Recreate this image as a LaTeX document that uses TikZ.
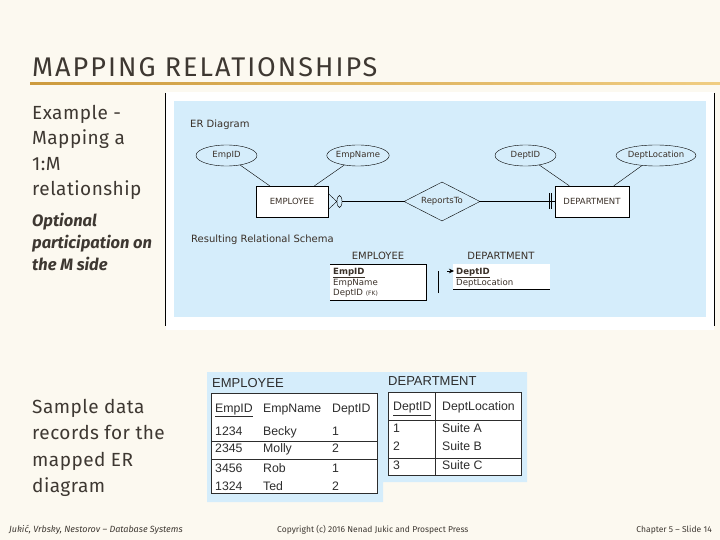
\documentclass[tikz,border=0pt]{standalone}
\usepackage{fontspec}
\setmainfont{Fira Sans}
\newfontfamily\erfont{DejaVu Sans}
\newfontfamily\tabfont{Liberation Sans}
\usetikzlibrary{shapes.geometric,arrows.meta}
\definecolor{slidebg}{RGB}{252,249,240}
\definecolor{slideink}{RGB}{62,56,50}
\definecolor{golddark}{RGB}{205,155,62}
\definecolor{goldlight}{RGB}{240,205,130}
\definecolor{erblue}{RGB}{213,237,251}
\definecolor{erink}{RGB}{58,48,40}
\definecolor{tabink}{RGB}{45,45,45}

\begin{document}
\begin{tikzpicture}[x=1pt,y=-1pt,
    slidetxt/.style={anchor=base west,inner sep=0pt,text=slideink,font=\fontsize{19}{22}\selectfont\addfontfeature{LetterSpace=2.5}},
    notetxt/.style={anchor=base west,inner sep=0pt,text=slideink,font=\fontsize{16.5}{19}\selectfont\bfseries\itshape},
    foottxt/.style={anchor=base west,inner sep=0pt,text=slideink,font=\fontsize{8.5}{10}\selectfont},
    erlbl/.style={inner sep=0pt,text=erink,font=\erfont\fontsize{8.5}{10}\selectfont},
    entity/.style={erlbl,draw,fill=white,minimum width=72pt,minimum height=31pt},
    attr/.style={erlbl,draw,ellipse,minimum width=61pt,minimum height=21pt},
    rel/.style={erlbl,draw,diamond,aspect=1.95,minimum width=76pt,minimum height=39pt},
    erhead/.style={anchor=west,inner sep=0pt,text=erink,text height=7.3pt,text depth=0pt,font=\erfont\fontsize{10}{12}\selectfont},
    schtxt/.style={anchor=west,inner sep=0pt,text=erink,text height=6.3pt,text depth=0pt,font=\erfont\fontsize{8.6}{10}\selectfont},
    cell/.style={anchor=west,inner sep=0pt,text=tabink,text height=8.8pt,text depth=0pt,font=\tabfont\fontsize{12.3}{14}\selectfont},
    tabhead/.style={cell,font=\tabfont\fontsize{13}{15}\selectfont,text height=9.3pt}]
    \useasboundingbox (0,0) rectangle (720,540);
    \fill[slidebg] (0,0) rectangle (720,540);

    \node[anchor=base west,inner sep=0pt,text=slideink,font=\fontsize{27}{30}\selectfont\addfontfeature{LetterSpace=7.5}] (title) at (32,77) {MAPPING RELATIONSHIPS};
    \shade[left color=golddark,right color=goldlight] (30,82.5) rectangle (720,84.5);

    \node[slidetxt] (ex1) at (32,120) {Example -};
    \node[slidetxt] (ex2) at (32,145) {Mapping a};
    \node[slidetxt] (ex3) at (32,170.5) {1:M};
    \node[slidetxt] (ex4) at (32,196) {relationship};
    \node[notetxt] (opt1) at (32,226) {Optional};
    \node[notetxt] (opt2) at (32,248) {participation on};
    \node[notetxt] (opt3) at (32,270) {the M side};

    \fill[white] (166,92) rectangle (714,330);
    \fill[erblue] (174,101) rectangle (706,317);
    \draw[line width=1pt] (165.5,93) -- (165.5,326);
    \draw[line width=1pt] (714,93) -- (714,326);

    \node[erhead] (erd) at (190,124) {ER Diagram};
    \node[attr] (empid) at (226.5,155.5) {EmpID};
    \node[attr,minimum width=62pt] (empname) at (358,155.5) {EmpName};
    \node[attr] (deptid) at (525.5,155.5) {DeptID};
    \node[attr,minimum width=64pt] (deptloc) at (656,155.5) {DeptLocation};
    \node[entity] (emp) at (292,201.5) {EMPLOYEE};
    \node[rel] (rep) at (442,201.5) {ReportsTo};
    \node[entity,minimum width=74pt] (dept) at (592,201.5) {DEPARTMENT};
    \node[draw,ellipse,inner sep=0pt,minimum width=5pt,minimum height=12pt] (zero) at (339.5,201.5) {};
    \draw (empid) -- (emp);
    \draw (empname) -- (emp);
    \draw (deptid) -- (dept);
    \draw (deptloc) -- (dept);
    \draw ([yshift=8pt]emp.east) -- (zero.west) -- ([yshift=-8pt]emp.east);
    \draw (zero.east) -- (rep.west);
    \draw (rep.east) -- (dept.west);
    \draw ([xshift=-6pt,yshift=8pt]dept.west) -- ([xshift=-6pt,yshift=-8pt]dept.west);
    \draw ([xshift=-3.5pt,yshift=8pt]dept.west) -- ([xshift=-3.5pt,yshift=-8pt]dept.west);

    \node[erhead] (res) at (191,239) {Resulting Relational Schema};
    \node[erlbl,font=\erfont\fontsize{10}{12}\selectfont] (semp) at (378,256) {EMPLOYEE};
    \node[erlbl,font=\erfont\fontsize{10}{12}\selectfont] (sdept) at (501,256) {DEPARTMENT};
    \fill[white] (330,264) rectangle (426,300);
    \draw (330,264) -- (426,264) -- (426,300) -- (330,300);
    \fill[white] (453,264) rectangle (550,289);
    \draw (453,289) -- (550,289);
    \node[schtxt,font=\erfont\fontsize{8.6}{10}\selectfont\bfseries] (epk) at (333,271) {\underline{EmpID}};
    \node[schtxt] (enm) at (333,282) {EmpName};
    \node[schtxt] (efk) at (333,292.5) {DeptID {\fontsize{6}{7}\selectfont(FK)}};
    \node[schtxt,font=\erfont\fontsize{8.6}{10}\selectfont\bfseries] (dpk) at (456,271) {\underline{DeptID}};
    \node[schtxt] (dloc) at (456,282) {DeptLocation};
    \coordinate (fkup) at (438,271);
    \coordinate (fklow) at (438,293);
    \coordinate (fkhead) at (447,271);
    \draw (fklow) -- (fkup);
    \draw[-{Stealth[length=5pt,width=4.5pt]}] (fkhead) -- ([xshift=-2pt]dpk.west);

    \fill[erblue] (207,372) -- (527,372) -- (527,482) -- (383,482) -- (383,502) -- (207,502) -- cycle;
    \node[tabhead] (temp) at (212,383) {EMPLOYEE};
    \node[tabhead] (tdept) at (388,381) {DEPARTMENT};
    \draw[fill=white,draw=tabink,line width=0.8pt] (211,393) rectangle (377,493);
    \draw[tabink,line width=0.8pt] (211,441) -- (377,441);
    \draw[tabink,line width=0.8pt] (211,459) -- (377,459);
    \node[cell] (h1) at (215,408) {\underline{EmpID}};
    \node[cell] (h2) at (263,408) {EmpName};
    \node[cell] (h3) at (332,408) {DeptID};
    \node[cell] (r11) at (215,431) {1234};
    \node[cell] (r12) at (263,431) {Becky};
    \node[cell] (r13) at (332,431) {1};
    \node[cell] (r21) at (215,448.5) {2345};
    \node[cell] (r22) at (263,448.5) {Molly};
    \node[cell] (r23) at (332,448.5) {2};
    \node[cell] (r31) at (215,468) {3456};
    \node[cell] (r32) at (263,468) {Rob};
    \node[cell] (r33) at (332,468) {1};
    \node[cell] (r41) at (215,486) {1324};
    \node[cell] (r42) at (263,486) {Ted};
    \node[cell] (r43) at (332,486) {2};

    \draw[fill=white,draw=tabink,line width=0.8pt] (388,392) rectangle (521,475);
    \draw[tabink,line width=0.8pt] (388,420) -- (521,420);
    \draw[tabink,line width=0.8pt] (388,458) -- (521,458);
    \draw[tabink,line width=0.8pt] (435,392) -- (435,475);
    \node[cell] (d1) at (393,406.5) {\underline{DeptID}};
    \node[cell] (d2) at (442,406.5) {DeptLocation};
    \node[cell] (s11) at (393,428.5) {1};
    \node[cell] (s12) at (442,428.5) {Suite A};
    \node[cell] (s21) at (393,446.5) {2};
    \node[cell] (s22) at (442,446.5) {Suite B};
    \node[cell] (s31) at (393,465) {3};
    \node[cell] (s32) at (442,465) {Suite C};

    \node[slidetxt] (sd1) at (32,413) {Sample data};
    \node[slidetxt] (sd2) at (32,439) {records for the};
    \node[slidetxt] (sd3) at (32,466) {mapped ER};
    \node[slidetxt] (sd4) at (32,492) {diagram};

    \node[foottxt,font=\fontsize{9}{10}\selectfont\itshape] (f1) at (9,532) {Jukić, Vrbsky, Nestorov – Database Systems};
    \node[foottxt] (f2) at (277,532) {Copyright (c) 2016 Nenad Jukic and Prospect Press};
    \node[foottxt,anchor=base east] (f3) at (712,532) {Chapter 5 – Slide 14};
\end{tikzpicture}
\end{document}
